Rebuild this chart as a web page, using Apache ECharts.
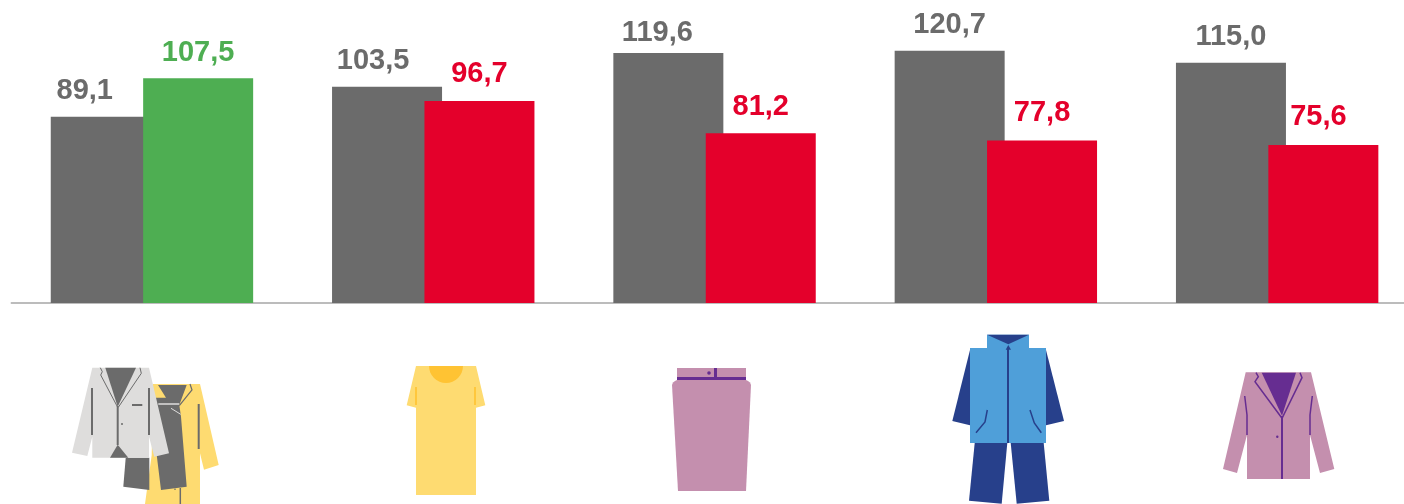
<!DOCTYPE html>
<html>
<head>
<meta charset="utf-8">
<style>html,body{margin:0;padding:0;background:#fff}#c{width:1404px;height:504px}</style>
<script src="https://cdn.jsdelivr.net/npm/echarts@6/dist/echarts.min.js"></script>
</head>
<body>
<div id="c"></div>
<script>
const categories = ['Suits and coats', 'Dresses', 'Skirts', 'Workwear', 'Jackets'];
const previousValues = [89.1, 103.5, 119.6, 120.7, 115.0];
const currentValues = [107.5, 96.7, 81.2, 77.8, 75.6];
const GREY = '#6b6b6b', GREEN = '#4eae52', RED = '#e4002b';
const currentColors = [GREEN, RED, RED, RED, RED];
// Label nudges seen in the reference, kept apart from the values
const previousLabelShiftX = [-21, -14, -11, 0, 0];
const previousLabelShiftY = [0, 0, 5, 0, 0];
const currentLabelShiftX = [0, 0, 0, 0, -5];
const currentLabelShiftY = [0, -1, -1, -2, -2];

const fmt = p => p.value.toFixed(1).replace('.', ',');
const labelBase = {
  show: true, position: 'top', distance: 11, formatter: fmt,
  fontFamily: '"Liberation Sans", Arial, sans-serif', fontWeight: 'bold', fontSize: 29
};

// Decorative pictograms
const Y = '#fedb71', YD = '#ffc333', LG = '#dedddc', PK = '#c48fae', PU = '#662d91', BL = '#4f9fd9', NV = '#27408b';
const poly = (pts, fill) => ({type: 'polygon', silent: true, shape: {points: pts}, style: {fill}});
const line = (pts, stroke, w) => ({type: 'polyline', silent: true, shape: {points: pts}, style: {stroke, fill: null, lineWidth: w}});
const dot = (cx, cy, r, fill) => ({type: 'circle', silent: true, shape: {cx, cy, r}, style: {fill}});
const icons = [
  // yellow coat
  poly([[153,384],[200,384],[218.7,465],[204,469.7],[200,453.3],[200,504],[145,504],[151.7,455]], Y),
  // grey dress under jacket
  poly([[158,385],[186.7,385],[179.3,405],[181,416.7],[186.7,486.7],[161,490],[156.7,455],[150,408],[150,397.7],[166,397.7]], GREY),
  poly([[125.7,457.7],[149.3,457.7],[149.3,490],[123.3,486.7]], GREY),
  line([[158.3,404],[179.3,404]], LG, 1.5),
  line([[171,408.3],[180.7,414.3]], LG, 1),
  line([[190,384],[192,390],[179.3,405.7]], GREY, 1.2),
  line([[198.7,404],[198.7,449]], GREY, 2),
  line([[180.3,488],[180.3,504]], GREY, 1.5),
  dot(175, 489.3, 0.8, GREY),
  // light jacket
  poly([[92.3,367.7],[149,367.7],[169,453.3],[154.3,456.7],[149,436.7],[149,457.7],[92.3,457.7],[92.3,436.7],[87.3,456],[72,452.7]], LG),
  poly([[105.3,367.7],[136,367.7],[117.7,406.7]], GREY),
  line([[100.3,367.7],[102.3,371.7],[100.7,375],[117.7,407.3]], GREY, 1),
  line([[140,367.7],[141.3,373.3],[118.3,407.3]], GREY, 1),
  line([[117.7,406],[117.7,445]], GREY, 2),
  poly([[117.7,444.7],[110,457.7],[128.3,457.7]], GREY),
  line([[92,388],[92,435]], GREY, 2),
  line([[149,388],[149,435]], GREY, 2),
  line([[132,405],[142.3,405]], GREY, 2),
  dot(122, 424, 1, GREY),
  // dress
  poly([[416,366],[476,366],[485.3,405.3],[476,407.7],[476,495],[416,495],[416,407.7],[406.7,405.3]], Y),
  {type: 'sector', silent: true, shape: {cx: 446, cy: 366, r: 17, r0: 0, startAngle: 0, endAngle: Math.PI}, style: {fill: YD}},
  line([[416,387],[416,405]], YD, 1.7),
  line([[475,387],[475,405]], YD, 1.7),
  // skirt
  poly([[677,368],[746,368],[746,378],[677,378]], PK),
  poly([[672,385],[673,382.5],[675,381],[677,380],[746,380],[748,381],[750,382.5],[751,385],[746,491],[678,491]], PK),
  poly([[677,377],[746,377],[746,380],[677,380]], PU),
  poly([[714,368],[717,368],[717,377],[714,377]], PU),
  dot(709, 373, 1.8, PU),
  // blue set
  poly([[970,350],[952.3,421],[970,425.3]], NV),
  poly([[1046,350],[1064,421],[1046,425.3]], NV),
  poly([[974.7,443],[1007.3,443],[1001.7,503.7],[969,500.7]], NV),
  poly([[1010.7,443],[1043.7,443],[1049.3,500.7],[1016.7,503.7]], NV),
  poly([[987,334.7],[1029,334.7],[1029,348],[1046,348],[1046,443],[970,443],[970,348],[987,348]], BL),
  poly([[987,334.7],[1029,334.7],[1008.3,344.3]], NV),
  line([[1008,348],[1008,443]], NV, 2),
  poly([[1008.3,345],[1005.7,349.7],[1011,349.7]], NV),
  line([[987.3,410],[985,422],[976,432.7]], NV, 1.5),
  line([[1030,410],[1034.3,423],[1041.3,432.7]], NV, 1.5),
  // purple jacket
  poly([[1245.7,372.3],[1311,372.3],[1334.3,469],[1320,473],[1310,435],[1310,479],[1247,479],[1247,435],[1237,473],[1223,469]], PK),
  poly([[1261.7,372.7],[1296,372.7],[1282,415.7]], PU),
  line([[1256,372.7],[1258.3,376.7],[1255,381.7],[1282,418.3]], PU, 1.5),
  line([[1300,372.7],[1302,377.7],[1282,418.3]], PU, 1.5),
  line([[1282,416],[1282,479]], PU, 2),
  dot(1277.3, 436.7, 1.2, PU),
  line([[1244.7,396],[1247,415],[1247,435]], PU, 1.5),
  line([[1312.3,396],[1310,415],[1310,435]], PU, 1.5)
];

const chart = echarts.init(document.getElementById('c'), null, {renderer: 'canvas'});
chart.setOption({
  animation: false,
  backgroundColor: '#ffffff',
  grid: {left: 11.3, width: 1406.5, top: 10.4, height: 292.6, outerBoundsMode: 'none'},
  xAxis: {
    type: 'category', data: categories,
    axisLine: {show: true, lineStyle: {color: '#a6a6a6', width: 1.5}},
    axisTick: {show: false}, axisLabel: {show: false}, splitLine: {show: false}
  },
  yAxis: {type: 'value', min: 0, max: 140, show: false, splitLine: {show: false}},
  series: [
    {
      type: 'bar', name: 'Previous', barWidth: 110, barGap: '-16%',
      itemStyle: {color: GREY},
      data: previousValues.map((v, i) => ({
        value: v,
        label: {...labelBase, color: GREY, offset: [previousLabelShiftX[i], previousLabelShiftY[i]]}
      }))
    },
    {
      type: 'bar', name: 'Current', barWidth: 110,
      data: currentValues.map((v, i) => ({
        value: v,
        itemStyle: {color: currentColors[i]},
        label: {...labelBase, color: currentColors[i], offset: [currentLabelShiftX[i], currentLabelShiftY[i]]}
      }))
    }
  ],
  graphic: {elements: icons}
});
</script>
</body>
</html>
